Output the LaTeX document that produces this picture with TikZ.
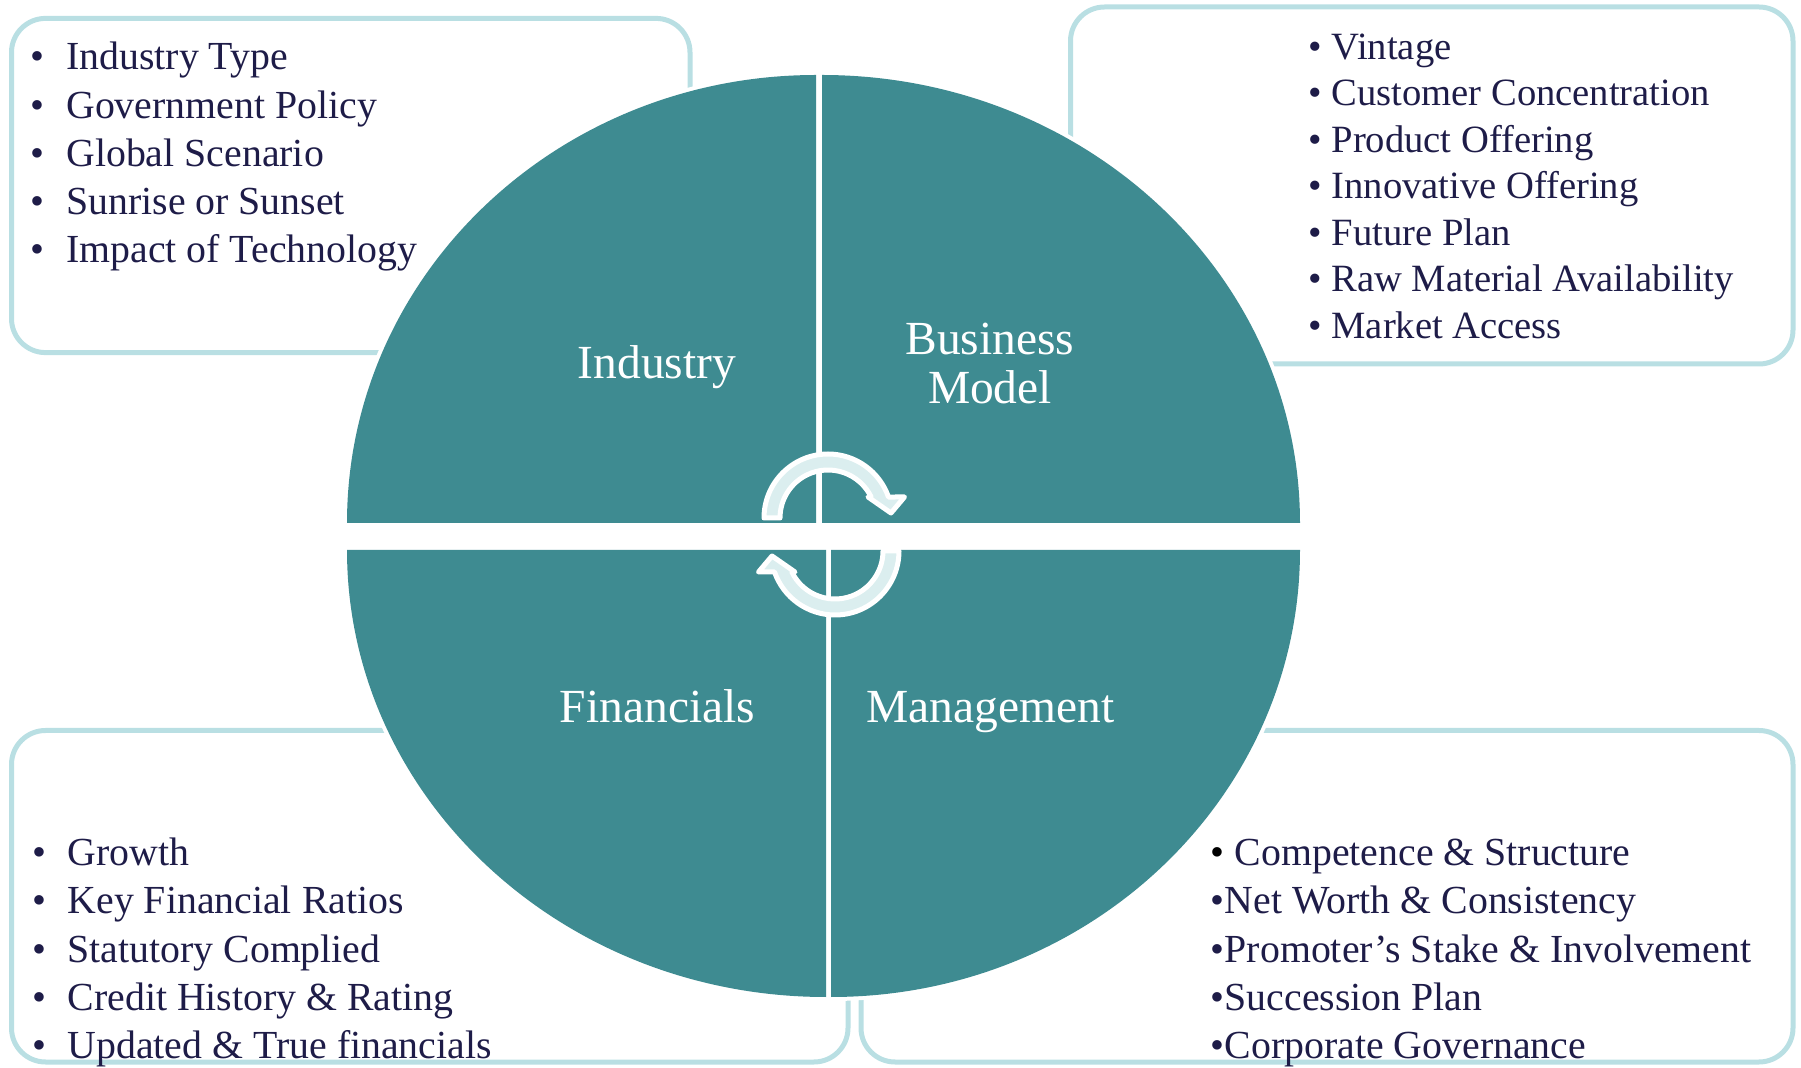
\documentclass[tikz,border=0pt]{standalone}
\usepackage{fontspec}
\setmainfont{Liberation Serif}
\definecolor{segteal}{RGB}{62,139,145}
\definecolor{frameblue}{RGB}{185,223,227}
\definecolor{cyclefill}{RGB}{219,238,239}
\definecolor{listink}{RGB}{30,28,72}
\begin{document}
\begin{tikzpicture}[x=0.5pt,y=0.5pt,
  frame/.style={draw=frameblue,line width=2.5pt,rounded corners=17pt},
  seg/.style={fill=segteal,preaction={draw=white,fill=white,line width=4pt}},
  seglabel/.style={text=white,inner sep=0pt,anchor=base,font=\fontsize{23.75}{28}\selectfont},
  item/.style={text=listink,inner sep=0pt,anchor=base west,font=\fontsize{19.9}{24}\selectfont},
  itemr/.style={item,font=\fontsize{19.3}{23}\selectfont},
  cyclearrow/.style={fill=cyclefill,draw=white,line width=2.5pt,line join=round}]
\useasboundingbox (0,0) rectangle (1801,1067);

% rounded frames behind the segments
\draw[frame] (11.5,714.4) rectangle (690,1048.6);
\draw[frame] (1070.5,703) rectangle (1793,1060);
\draw[frame] (11.5,5) rectangle (848,336.5);
\draw[frame] (861,5) rectangle (1793,336.5);

% four segments of the split disc
\path[seg] (816,544) -- (347,544) arc[start angle=180,end angle=90,x radius=469,y radius=448] -- cycle;
\path[seg] (822,544) -- (1300,544) arc[start angle=0,end angle=90,x radius=478,y radius=448] -- cycle;
\path[seg] (826,517) -- (347,517) arc[start angle=180,end angle=270,x radius=479,y radius=447] -- cycle;
\path[seg] (831,517) -- (1300,517) arc[start angle=0,end angle=-90,x radius=469,y radius=447] -- cycle;

% segment titles
\node[seglabel] (ind) at (657,688) {Industry};
\node[seglabel] (bm1) at (990,712) {Business};
\node[seglabel] (bm2) at (990,663.7) {Model};
\node[seglabel] (fin) at (657.5,344) {Financials};
\node[seglabel] (mgt) at (990.5,344) {Management};

% circular arrows in the middle
\begin{scope}[shift={(828,549)}]
  \path[cyclearrow] (180:64) arc[start angle=180,end angle=19.15,radius=64]
    -- (76.5,21) -- (63,5) -- (40,21) -- (25.94:48)
    arc[start angle=25.94,end angle=180,radius=48] -- cycle;
\end{scope}
\begin{scope}[shift={(835,516)},rotate=180]
  \path[cyclearrow] (180:64) arc[start angle=180,end angle=19.15,radius=64]
    -- (76.5,21) -- (63,5) -- (40,21) -- (25.94:48)
    arc[start angle=25.94,end angle=180,radius=48] -- cycle;
\end{scope}

% bullet lists
\foreach \t [count=\i from 0] in {Industry Type,Government Policy,Global Scenario,Sunrise or Sunset,Impact of Technology}
  \node[item] (tl\i) at (30.5,997-48.2*\i) {\makebox[17.75pt][l]{•}\t};

\foreach \t [count=\i from 0] in {Vintage,Customer Concentration,Product Offering,Innovative Offering,Future Plan,Raw Material Availability,Market Access}
  \node[itemr] (tr\i) at (1308.5,1007.5-46.5*\i) {\makebox[11.35pt][l]{•}\t};

\foreach \t [count=\i from 0] in {Growth,Key Financial Ratios,Statutory Complied,Credit History \& Rating,Updated \& True financials}
  \node[item] (bl\i) at (31.8,201.3-48.2*\i) {\makebox[17.75pt][l]{•}\t};

\node[item] (br0) at (1210.5,201.3) {{\color{black}•} Competence \& Structure};
\foreach \t [count=\i from 1] in {Net Worth \& Consistency,Promoter’s Stake \& Involvement,Succession Plan,Corporate Governance}
  \node[item] (br\i) at (1210.5,201.3-48.2*\i) {•\t};
\end{tikzpicture}
\end{document}
